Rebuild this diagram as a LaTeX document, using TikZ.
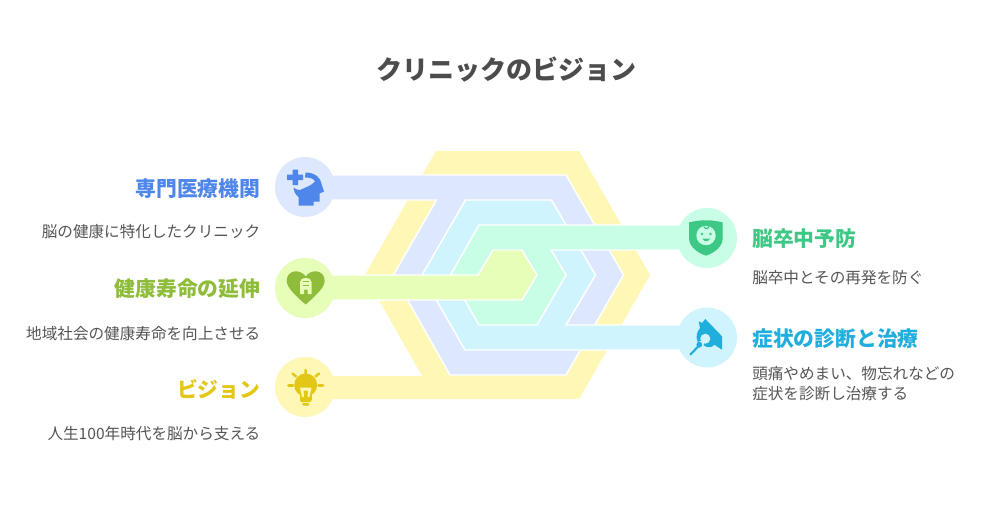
\documentclass[tikz,border=0pt]{standalone}
\usepackage{fontspec}
\newfontfamily\cjk{Noto Sans CJK JP}
\definecolor{yellowfill}{HTML}{FEF7B5}
\definecolor{bluefill}{HTML}{DDE8FE}
\definecolor{cyanfill}{HTML}{D0F4FE}
\definecolor{greenfill}{HTML}{C8FEE5}
\definecolor{limefill}{HTML}{E6FEB8}
\definecolor{yellowink}{HTML}{E3C716}
\definecolor{blueink}{HTML}{4F86EA}
\definecolor{cyanink}{HTML}{20AEDD}
\definecolor{greenink}{HTML}{3EC885}
\definecolor{limeink}{HTML}{8FBD3B}
\definecolor{textink}{HTML}{555555}
\tikzset{
  band/.style={fill=#1, draw=white, line width=1.1pt, line join=miter},
  disc/.style={circle, fill=#1, inner sep=0pt, minimum size=45pt},
  heading/.style={font=\cjk\bfseries\fontsize{15.6}{19}\selectfont, text=#1, inner sep=0pt},
  note/.style={font=\cjk\fontsize{11.7}{15}\selectfont, text=textink, inner sep=0pt},
}
\begin{document}
\begin{tikzpicture}[x=0.75pt,y=-0.75pt]
   \fill[white] (0,0) rectangle (1000,526);

   \node[font=\cjk\bfseries\fontsize{19.5}{24}\selectfont, text=textink!90!black, inner sep=0pt] (title) at (506.5,69) {クリニックのビジョン};

   % nested hexagons, outermost first
   \fill[yellowfill] (436,151) -- (579,151) -- (650,275) -- (579,399) -- (305,399) -- (305,376) -- (422,376) -- (365,275) -- cycle;
   \draw[band=bluefill] (305,175) -- (566,175) -- (623.5,275) -- (566,375) -- (450,375) -- (393.5,275) -- (436.5,200) -- (305,200) -- cycle;
   \draw[band=cyanfill] (465.5,200) -- (551.5,200) -- (595.5,275) -- (566,325) -- (707,325) -- (707,350) -- (465,350) -- (422,275) -- cycle;
   \draw[band=greenfill] (479,225) -- (707,225) -- (707,250) -- (551,250) -- (566,275) -- (537,325) -- (479,325) -- (450.5,275) -- cycle;
   \draw[band=limefill] (305,275) -- (478,275) -- (493,250) -- (522,250) -- (537,275) -- (522,300) -- (305,300) -- cycle;

   \node[disc=bluefill] (brain) at (305,187) {};
   \node[disc=limefill] (heart) at (305,288) {};
   \node[disc=yellowfill] (bulb) at (305,387) {};
   \node[disc=greenfill] (shield) at (707,238) {};
   \node[disc=cyanfill] (tool) at (707,337.5) {};

   % head with a cross
   \fill[blueink] (292.5,169.5) rectangle (298,185) (287,174.5) rectangle (303,180);
   \fill[blueink] (305.5,172.5) .. controls (315,172.5) and (321,178) .. (321.5,184) -- (324,191.5) -- (319.5,193.5) -- (319.5,201.5) -- (313.5,201.5) -- (313.5,205.5) -- (298.5,205.5) -- (298.5,197) .. controls (295,194) and (293.5,191) .. (293.5,187.5) .. controls (296,189.5) and (298,190) .. (300,190) .. controls (306,187) and (311,186) .. (315,181.5) .. controls (314,179) and (311,177.5) .. (305,177.5) -- cycle;

   % heart with a building
   \fill[limeink] (305.7,276.5) .. controls (301,269) and (286.7,269) .. (286.7,281) .. controls (286.7,288) and (298,298) .. (305.7,304.5) .. controls (313,298) and (324.7,288) .. (324.7,281) .. controls (324.7,269) and (310,269) .. (305.7,276.5) -- cycle;
   \fill[limefill] (300,294) -- (300,282) .. controls (300,276.5) and (311.5,276.5) .. (311.5,282) -- (311.5,294) -- (307.5,294) -- (307.5,289.5) -- (304,289.5) -- (304,294) -- cycle;
   \draw[limeink, line width=0.7pt] (303,281.5) -- (308.5,281.5) (303,285.5) -- (308.5,285.5);

   % light bulb
   \fill[yellowink] (305.7,385) circle (11.5);
   \fill[yellowink] (300,392) rectangle (311.5,400);
   \fill[yellowink, rounded corners=1pt] (300,399) rectangle (311.5,402) (302,403) rectangle (309.5,405.5);
   \draw[yellowink, line width=1.9pt, line cap=round] (305.7,370) -- (305.7,374) (292.5,373.5) -- (296,376.5) (319,373.5) -- (315.5,376.5) (288.5,385.5) -- (293,385.5) (318.5,385.5) -- (323,385.5);
   \fill[yellowfill] (300,387.5) -- (311.5,387.5) -- (309.5,397) -- (307.5,397) -- (308,390.5) -- (303.5,390.5) -- (304,397) -- (302,397) -- cycle;

   % shield with a baby face
   \fill[greenink] (689,222.5) .. controls (700,219.5) and (712,219.5) .. (722.7,222.5) -- (722.7,238) .. controls (722.7,247) and (714,253) .. (706,255.7) .. controls (698,253) and (689,247) .. (689,238) -- cycle;
   \fill[greenfill] (706,235.5) circle (9.7);
   \draw[greenink, line width=1pt, line cap=round] (704,227) .. controls (706,229.5) and (709,229) .. (709,226.5);
   \fill[greenink] (702,234) circle (1.3) (710.5,234) circle (1.3);
   \fill[greenink] (702.5,238.5) .. controls (703.5,242) and (709,242) .. (710,238.5) -- cycle;

   % hand holding a probe
   \fill[cyanink] (698.7,321.3) -- (702,323) -- (705.3,319) -- (722,336.3) -- (722,349.7) -- (714.3,344.7) .. controls (712,348) and (707,348) .. (703,345) -- (697.5,341.5) .. controls (695.5,336) and (697,332) .. (700,328) -- cycle;
   \fill[cyanfill] (705.3,338.7) circle (5);
   \fill[cyanfill] (705.3,338.7) -- (695,343.5) -- (702.5,349) -- cycle;
   \fill[cyanink] (699.3,344.7) circle (2.9);
   \draw[cyanink, line width=1.6pt, line cap=round] (698.5,346) -- (690.5,354.5);

   \node[heading=blueink, anchor=east] (brain title) at (260.5,189) {専門医療機関};
   \node[note, anchor=east] (brain note) at (260.5,232) {脳の健康に特化したクリニック};
   \node[heading=limeink, anchor=east] (heart title) at (260.5,289) {健康寿命の延伸};
   \node[note, anchor=east] (heart note) at (260.5,333.5) {地域社会の健康寿命を向上させる};
   \node[heading=yellowink, anchor=east] (bulb title) at (260.5,389) {ビジョン};
   \node[note, anchor=east] (bulb note) at (260.5,433.5) {人生100年時代を脳から支える};

   \node[heading=greenink, anchor=west] (shield title) at (752,239) {脳卒中予防};
   \node[note, anchor=west] (shield note) at (752,277.5) {脳卒中とその再発を防ぐ};
   \node[heading=cyanink, anchor=west] (tool title) at (752,339) {症状の診断と治療};
   \node[note, anchor=west, align=left] (tool note) at (752,383.5) {頭痛やめまい、物忘れなどの\\症状を診断し治療する};
\end{tikzpicture}
\end{document}
